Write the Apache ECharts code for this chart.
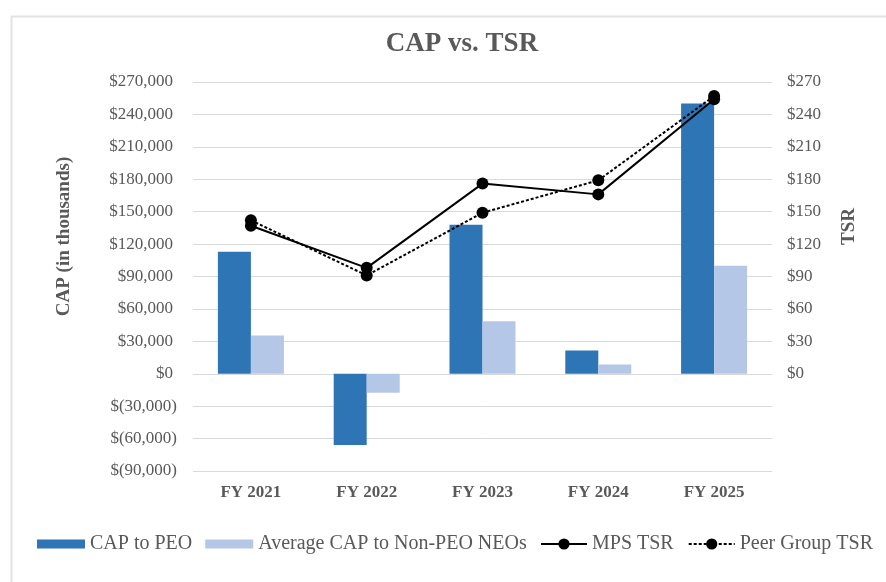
<!DOCTYPE html>
<html>
<head>
<meta charset="utf-8">
<script src="https://cdn.jsdelivr.net/npm/echarts@6/dist/echarts.min.js"></script>
<style>html,body{margin:0;padding:0;background:#fff}#c{width:886px;height:582px}</style>
</head>
<body>
<div id="c"></div>
<script>
var categories = ['FY 2021', 'FY 2022', 'FY 2023', 'FY 2024', 'FY 2025'];
var capToPeo = [113000, -66000, 138000, 21500, 250000];
var avgCapNonPeo = [35500, -17500, 48500, 8500, 100000];
var mpsTsr = [137, 98, 176, 166, 254];
var peerTsr = [142, 91, 149, 179, 257];

var FONT = '"Liberation Serif", "DejaVu Serif", serif';
var TXT = '#595959';

function fmtCap(v) {
  var s = Math.abs(v).toLocaleString('en-US');
  return v < 0 ? '$(' + s + ')' : '{p|$' + s + '}';
}

var chart = echarts.init(document.getElementById('c'));
chart.setOption({
  animation: false,
  backgroundColor: '#fff',
  graphic: [{
    type: 'rect', left: 9, top: 14,
    shape: { width: 900, height: 600 },
    style: { fill: 'none', stroke: '#e3e3e3', lineWidth: 2 },
    silent: true, z: -1
  }],
  title: {
    text: 'CAP vs. TSR', left: 457, top: 26, textAlign: 'center',
    textStyle: { fontFamily: FONT, fontSize: 27, fontWeight: 'bold', color: TXT }
  },
  grid: { left: 193, right: 114, top: 82, bottom: 111 },
  legend: [{
    left: 32, top: 529,
    itemWidth: 48, itemHeight: 9, itemGap: 13,
    textStyle: { fontFamily: FONT, fontSize: 20, color: TXT },
    data: [
      { name: 'CAP to PEO', icon: 'rect' },
      { name: 'Average CAP to Non-PEO NEOs', icon: 'rect' }
    ]
  }, {
    left: 535, top: 529,
    itemWidth: 46, itemHeight: 14, itemGap: 14,
    textStyle: { fontFamily: FONT, fontSize: 20, color: TXT },
    data: [
      { name: 'MPS TSR' },
      { name: 'Peer Group TSR' }
    ]
  }],
  xAxis: {
    type: 'category', data: categories,
    axisLine: { show: false }, axisTick: { show: false },
    axisLabel: { fontFamily: FONT, fontSize: 17, fontWeight: 'bold', color: TXT, margin: 13 }
  },
  yAxis: [{
    type: 'value', min: -90000, max: 270000, interval: 30000,
    name: 'CAP (in thousands)', nameLocation: 'middle', nameGap: 119, nameRotate: 90,
    nameTextStyle: { fontFamily: FONT, fontSize: 19, fontWeight: 'bold', color: TXT, padding: [0, 0, 0, 80] },
    axisLine: { show: false }, axisTick: { show: false },
    axisLabel: { fontFamily: FONT, fontSize: 17, color: TXT, margin: 16, formatter: fmtCap,
      rich: { p: { padding: [0, 4, 0, 0] } } },
    splitLine: { lineStyle: { color: '#d9d9d9', width: 1 } }
  }, {
    type: 'value', min: -90, max: 270, interval: 30, position: 'right',
    name: 'TSR', nameLocation: 'middle', nameGap: 68, nameRotate: 90,
    nameTextStyle: { fontFamily: FONT, fontSize: 19, fontWeight: 'bold', color: TXT, padding: [0, 0, 0, 100] },
    axisLine: { show: false }, axisTick: { show: false }, splitLine: { show: false },
    axisLabel: { fontFamily: FONT, fontSize: 17, color: TXT, margin: 15,
      formatter: function (v) { return v < 0 ? '' : '$' + v; } }
  }],
  series: [{
    name: 'CAP to PEO', type: 'bar', data: capToPeo, yAxisIndex: 0,
    barWidth: 33, barGap: '0%', itemStyle: { color: '#2E75B6' }
  }, {
    name: 'Average CAP to Non-PEO NEOs', type: 'bar', data: avgCapNonPeo, yAxisIndex: 0,
    barWidth: 33, barGap: '0%', itemStyle: { color: '#B4C7E7' }
  }, {
    name: 'MPS TSR', type: 'line', data: mpsTsr, yAxisIndex: 1,
    symbol: 'circle', symbolSize: 12,
    lineStyle: { color: '#000', width: 2 }, itemStyle: { color: '#000' }
  }, {
    name: 'Peer Group TSR', type: 'line', data: peerTsr, yAxisIndex: 1,
    symbol: 'circle', symbolSize: 12,
    lineStyle: { color: '#000', width: 2, type: [3, 2] }, itemStyle: { color: '#000' }
  }]
});
</script>
</body>
</html>
